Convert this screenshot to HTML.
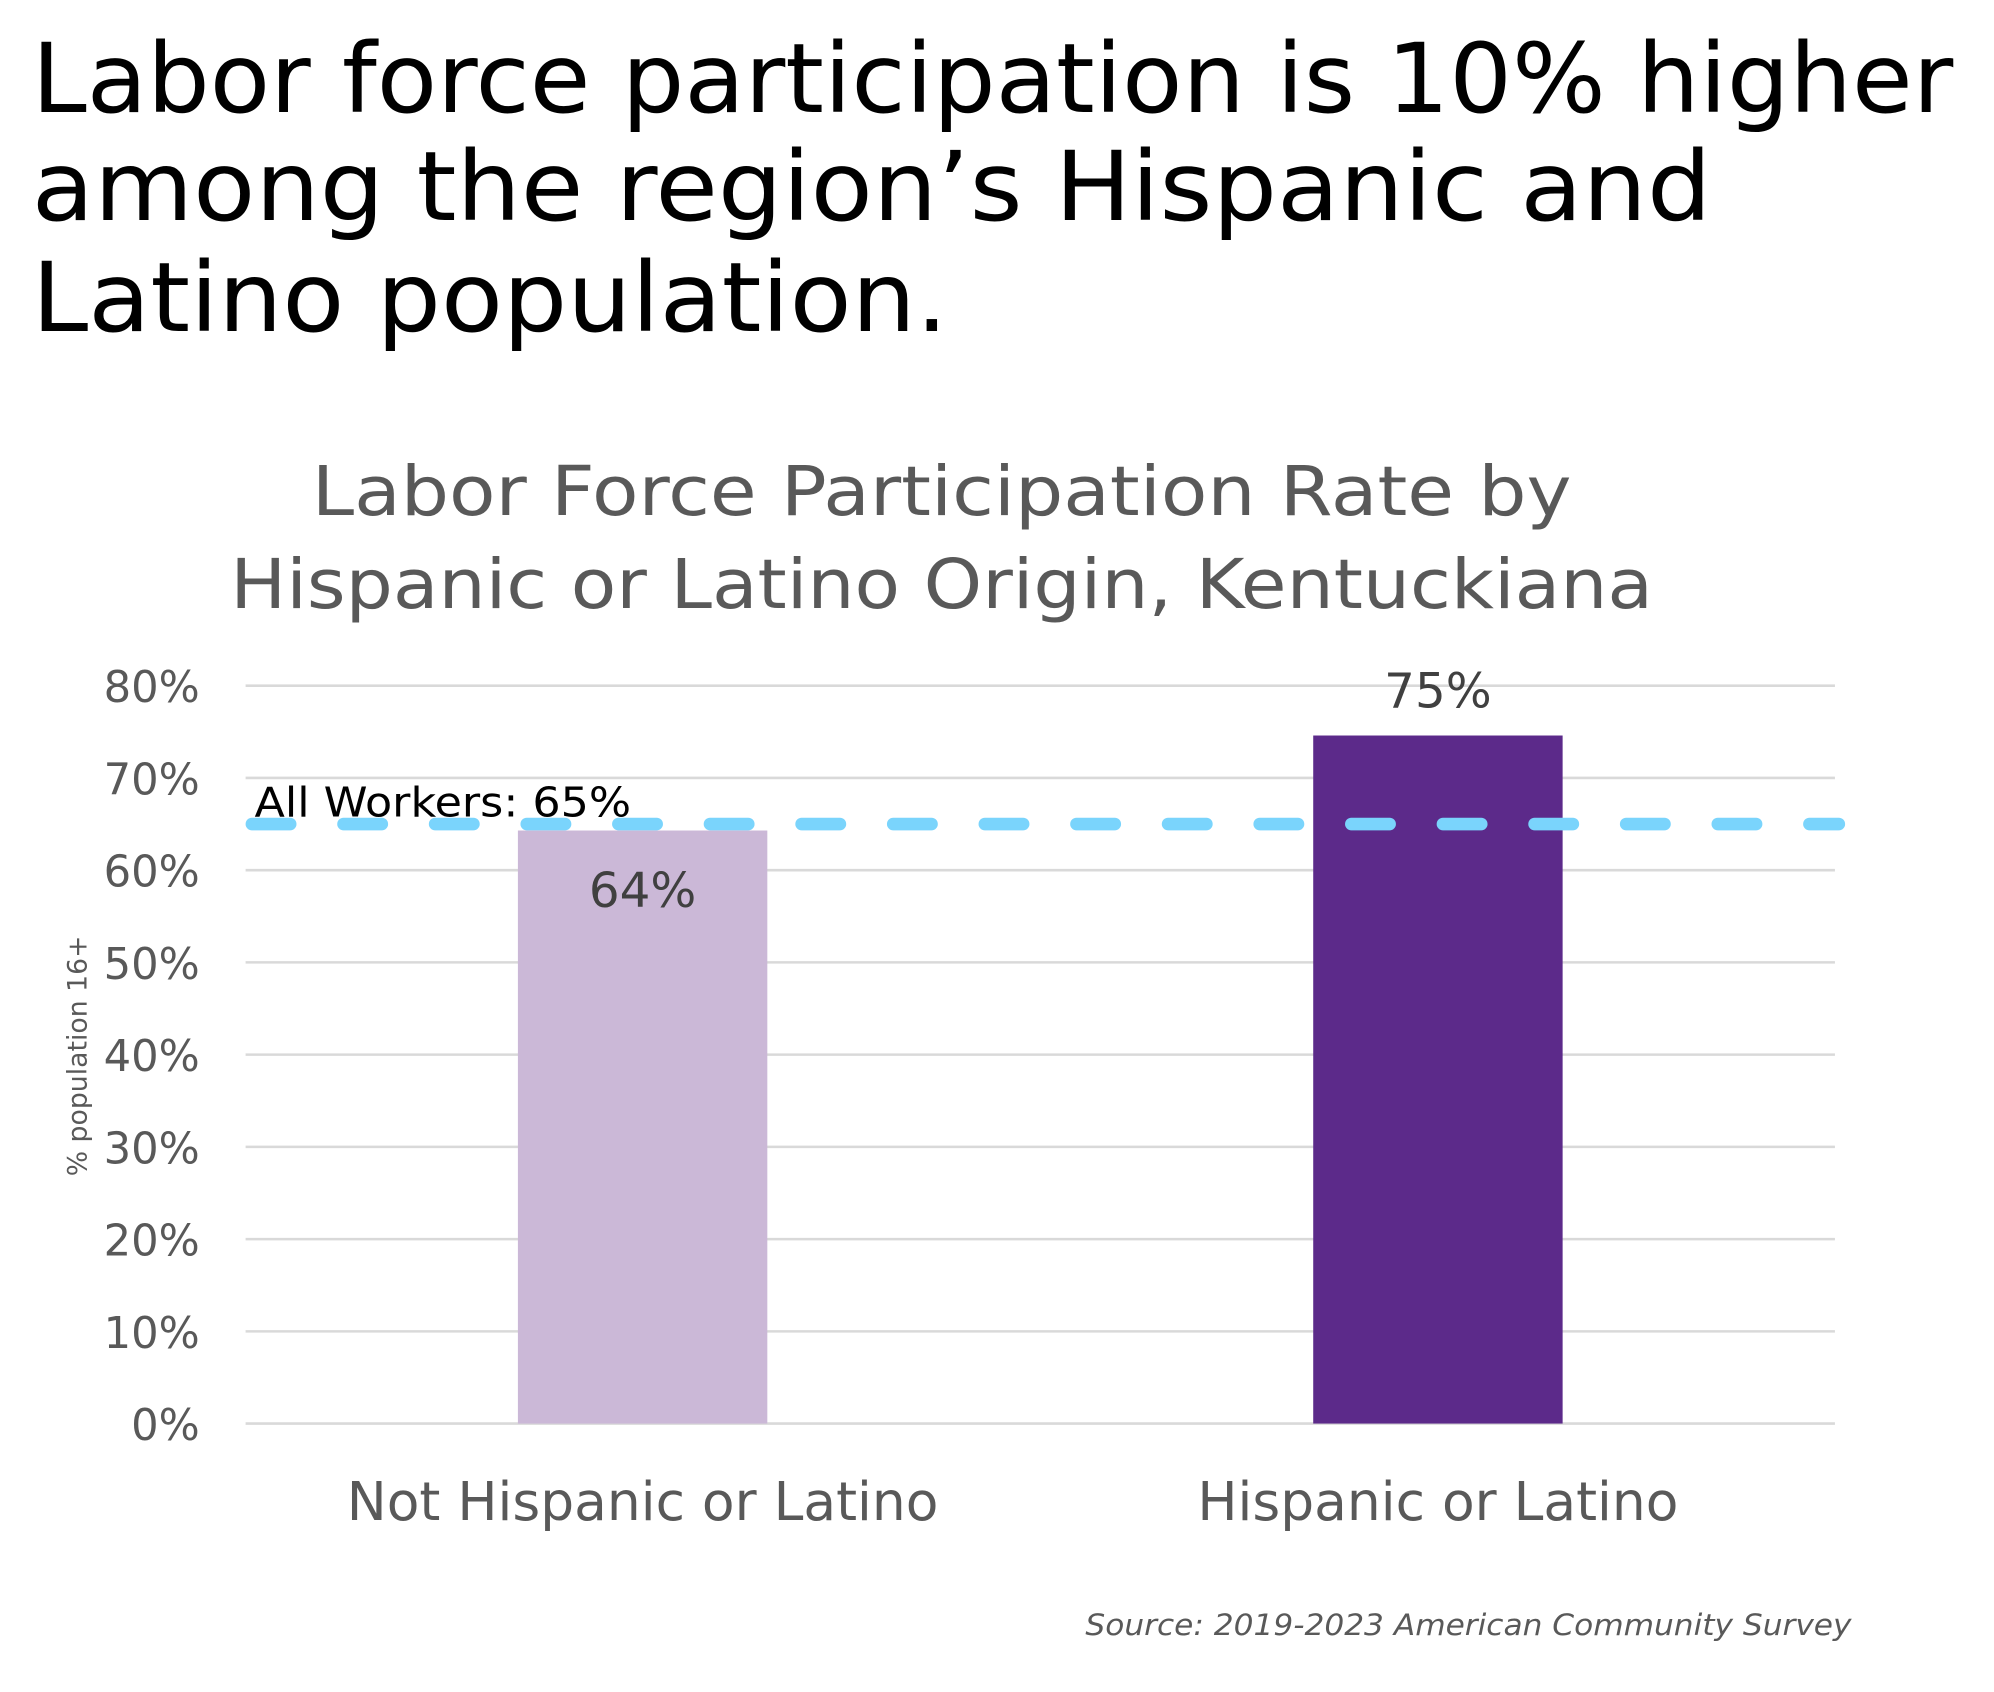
<!DOCTYPE html>
<html><head><meta charset="utf-8"><style>
html,body{margin:0;padding:0;background:#fff}
svg{display:block}
text{font-family:"DejaVu Sans","Liberation Sans",sans-serif}
</style></head><body>
<svg id="chart" width="1994" height="1692" viewBox="0 0 1567 1330" preserveAspectRatio="none" xmlns="http://www.w3.org/2000/svg">
<g fill="#000" font-size="76">
<text x="25" y="88" textLength="1510" lengthAdjust="spacingAndGlyphs">Labor force participation is 10% higher</text>
<text x="25" y="173" textLength="1320" lengthAdjust="spacingAndGlyphs">among the region’s Hispanic and</text>
<text x="25" y="260" textLength="720" lengthAdjust="spacingAndGlyphs">Latino population.</text>
</g>
<g fill="#595959" font-size="54" text-anchor="middle">
<text x="740" y="405" textLength="990" lengthAdjust="spacingAndGlyphs">Labor Force Participation Rate by</text>
<text x="740" y="478" textLength="1118" lengthAdjust="spacingAndGlyphs">Hispanic or Latino Origin, Kentuckiana</text>
</g>
<g id="grid"></g><g id="yticks"></g><g id="bars"></g><g id="labels"></g><g id="ref"></g>
<text transform="translate(68,830) rotate(-90)" text-anchor="middle" font-size="21" fill="#595959">% population 16+</text>
<text x="1455" y="1285" text-anchor="end" font-size="23" font-style="italic" fill="#595959" textLength="602" lengthAdjust="spacingAndGlyphs">Source: 2019-2023 American Community Survey</text>
</svg>
<script>
const categories = ["Not Hispanic or Latino", "Hispanic or Latino"];
const values = [64.3, 74.6];
const valueLabels = ["64%", "75%"];
const ticks = [0,10,20,30,40,50,60,70,80];
const refValue = 65;
const refLabel = "All Workers: 65%";
const NS="http://www.w3.org/2000/svg";
const x0=193,x1=1442,yTop=539,yBot=1119,yMax=80;
const y=v=>yBot-(v/yMax)*(yBot-yTop);
const bandW=(x1-x0)/categories.length;
function mk(tag,attrs,parent,txt){const e=document.createElementNS(NS,tag);for(const k in attrs)e.setAttribute(k,attrs[k]);if(txt!==undefined)e.textContent=txt;parent.appendChild(e);return e;}
const G=id=>document.getElementById(id);
ticks.forEach(t=>{
  const l=mk('line',{x1:x0,x2:x1,y1:y(t),y2:y(t),stroke:'#d9d9d9','stroke-width':2},G('grid'));
  
  
  const tx=mk('text',{x:157,y:y(t)+13,'text-anchor':'end','font-size':34,fill:'#595959'},G('yticks'),t+'%');
  
  
});
const colors=['#CBB8D7','#5C2A8A'];
const centers=[505,1130];
categories.forEach((c,i)=>{
  const xc=centers[i]!==undefined?centers[i]:x0+bandW*(i+0.5);
  const r=mk('rect',{x:xc-98,y:y(values[i]),width:196,height:yBot-y(values[i]),fill:colors[i%2]},G('bars'));
  
  
  const inside=i===0;
  const vl=mk('text',{x:xc,y:inside?y(values[i])+60:y(values[i])-22,'text-anchor':'middle','font-size':38,fill:'#404040'},G('labels'),valueLabels[i]);
  
  
  const cl=mk('text',{x:xc,y:1195,'text-anchor':'middle','font-size':42,fill:'#595959'},G('labels'),c);
  
  
});
const rl=mk('line',{x1:x0,x2:1445,y1:y(refValue),y2:y(refValue),stroke:'#7AD4FC','stroke-width':10,'stroke-dasharray':'30 42','stroke-linecap':'round'},G('ref'));


rl.setAttribute('stroke-dashoffset','-5');
const rt=mk('text',{x:200,y:y(refValue)-6,'font-size':32,fill:'#000',textLength:296,lengthAdjust:'spacingAndGlyphs'},G('ref'),refLabel);


</script>
</body></html>
